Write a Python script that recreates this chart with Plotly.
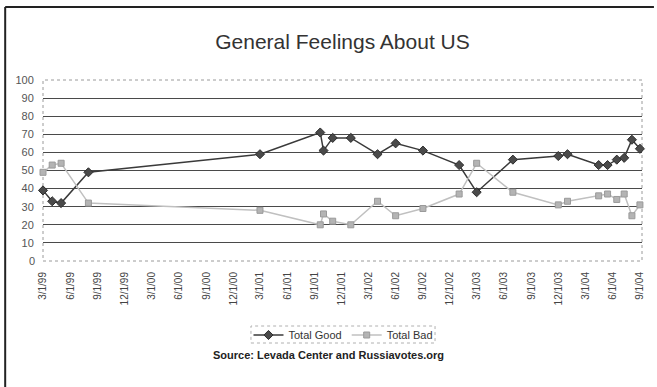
import plotly.graph_objects as go

# Survey dates (month/day/year) and shares of respondents
dates = [
    "1999-03-01", "1999-04-01", "1999-05-01", "1999-08-01", "2001-03-01",
    "2001-09-20", "2001-10-01", "2001-11-01", "2002-01-01", "2002-04-01",
    "2002-06-01", "2002-09-01", "2003-01-01", "2003-03-01", "2003-07-01",
    "2003-12-01", "2004-01-01", "2004-04-15", "2004-05-15", "2004-06-15",
    "2004-07-10", "2004-08-05", "2004-09-01",
]
total_good = [39, 33, 32, 49, 59, 71, 61, 68, 68, 59, 65, 61, 53, 38, 56,
              58, 59, 53, 53, 56, 57, 67, 62]
total_bad = [49, 53, 54, 32, 28, 20, 26, 22, 20, 33, 25, 29, 37, 54, 38,
             31, 33, 36, 37, 34, 37, 25, 31]

# Quarterly tick dates and their labels
tick_dates = [
    "1999-03-01", "1999-06-01", "1999-09-01", "1999-12-01",
    "2000-03-01", "2000-06-01", "2000-09-01", "2000-12-01",
    "2001-03-01", "2001-06-01", "2001-09-01", "2001-12-01",
    "2002-03-01", "2002-06-01", "2002-09-01", "2002-12-01",
    "2003-03-01", "2003-06-01", "2003-09-01", "2003-12-01",
    "2004-03-01", "2004-06-01", "2004-09-01",
]
tick_labels = [
    "3/1/99", "6/1/99", "9/1/99", "12/1/99",
    "3/1/00", "6/1/00", "9/1/00", "12/1/00",
    "3/1/01", "6/1/01", "9/1/01", "12/1/01",
    "3/1/02", "6/1/02", "9/1/02", "12/1/02",
    "3/1/03", "6/1/03", "9/1/03", "12/1/03",
    "3/1/04", "6/1/04", "9/1/04",
]
y_ticks = list(range(0, 101, 10))

W, H = 657, 387
L, R, T, B = 43, 12, 80, 126
PW, PH = W - L - R, H - T - B


def px_x(x):
    return (x - L) / PW


def px_y(y):
    return (H - B - y) / PH


FONT = "Liberation Sans, Arial, sans-serif"

fig = go.Figure()
fig.add_trace(go.Scatter(
    x=dates, y=total_good, name="Total Good", mode="lines+markers",
    line=dict(color="#3a3a3a", width=1.5),
    marker=dict(symbol="diamond", size=7, color="#4a4a4a",
                line=dict(color="#2e2e2e", width=1)),
    cliponaxis=False,
))
fig.add_trace(go.Scatter(
    x=dates, y=total_bad, name="Total Bad", mode="lines+markers",
    line=dict(color="#c0c0c0", width=1.5),
    marker=dict(symbol="square", size=6, color="#b4b4b4",
                line=dict(color="#9a9a9a", width=1)),
    cliponaxis=False,
))

shapes = [
    # dotted plot-area border
    dict(type="rect", xref="paper", yref="paper", x0=0, y0=0, x1=1, y1=1,
         line=dict(color="#9a9a9a", width=1, dash="dot"), layer="below"),
    # dotted legend box
    dict(type="rect", xref="paper", yref="paper",
         x0=px_x(252), x1=px_x(437), y0=px_y(343), y1=px_y(326),
         line=dict(color="#b0b0b0", width=1, dash="dot")),
    # outer frame (left and top edges)
    dict(type="line", xref="paper", yref="paper",
         x0=px_x(5), x1=px_x(5), y0=px_y(387), y1=px_y(7),
         line=dict(color="#222222", width=2)),
    dict(type="line", xref="paper", yref="paper",
         x0=px_x(5), x1=px_x(657), y0=px_y(7), y1=px_y(7),
         line=dict(color="#222222", width=2)),
    # dotted baseline at 0 in place of a dark gridline
    dict(type="line", xref="paper", yref="paper", x0=0, x1=1, y0=0, y1=0,
         line=dict(color="white", width=2), layer="below"),
    dict(type="line", xref="paper", yref="paper", x0=0, x1=1, y0=0, y1=0,
         line=dict(color="#9a9a9a", width=1, dash="dot"), layer="below"),
]

fig.update_layout(
    width=W, height=H,
    margin=dict(l=L, r=R, t=T, b=B),
    paper_bgcolor="white", plot_bgcolor="white",
    font=dict(family=FONT, color="#444444", size=10),
    title=dict(text="General Feelings About US", x=0.5, xanchor="center",
               y=1 - 42 / H, yanchor="middle", xref="paper",
               font=dict(family=FONT, size=21, color="#333333")),
    xaxis=dict(type="date", range=["1999-03-01", "2004-09-08"],
               tickvals=tick_dates, ticktext=tick_labels, tickangle=-90,
               showgrid=False, zeroline=False, showline=False,
               ticks="outside", ticklen=6, tickcolor="rgba(0,0,0,0)",
               tickfont=dict(size=10, color="#444444")),
    yaxis=dict(range=[0, 100], tickvals=y_ticks[1:], showgrid=True,
               gridcolor="#4a4a4a", gridwidth=1.3, zeroline=False,
               showline=False, ticks="outside", ticklen=6,
               tickcolor="rgba(0,0,0,0)",
               tickfont=dict(size=11, color="#555555")),
    legend=dict(orientation="h", x=px_x(345), y=px_y(335),
                xanchor="center", yanchor="middle",
                font=dict(size=11, color="#333333"),
                bgcolor="rgba(0,0,0,0)", itemwidth=30),
    shapes=shapes,
    annotations=[
        dict(text="<b>Source: Levada Center and Russiavotes.org</b>",
             xref="paper", yref="paper", x=px_x(330), y=px_y(355),
             xanchor="center", yanchor="middle", showarrow=False,
             font=dict(family=FONT, size=11, color="#222222")),
        # 0 label, since the 0 gridline is replaced by the dotted baseline
        dict(text="0", xref="paper", yref="y", x=px_x(37), y=0,
             xanchor="right", yanchor="middle", showarrow=False,
             font=dict(family=FONT, size=11, color="#555555")),
    ],
)

fig.write_html("out.html")
